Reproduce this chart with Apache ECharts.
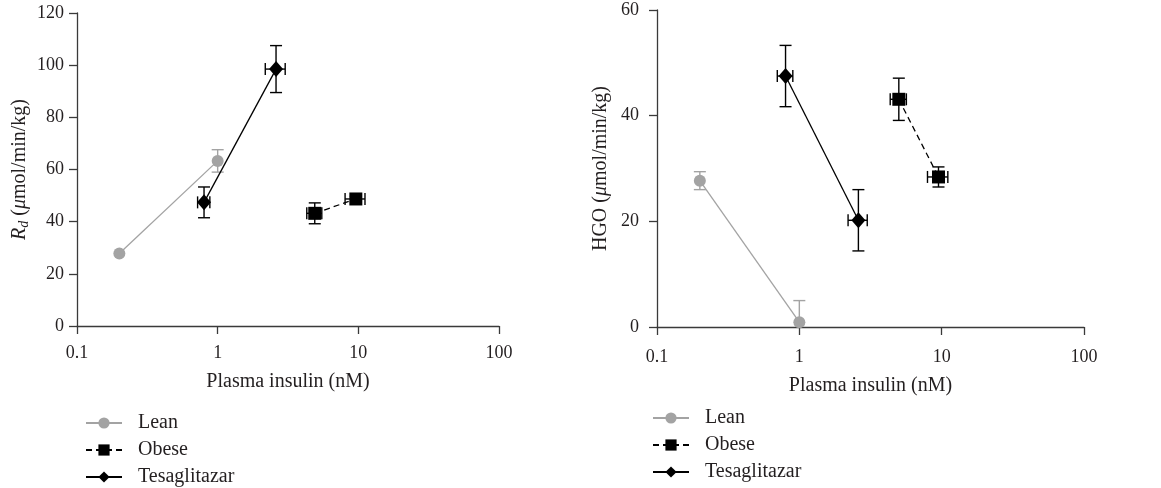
<!DOCTYPE html>
<html>
<head>
<meta charset="utf-8">
<script src="https://cdn.jsdelivr.net/npm/echarts@6/dist/echarts.min.js"></script>
<style>
html,body{margin:0;padding:0;background:#fff;}
#c{width:1161px;height:488px;}
</style>
</head>
<body>
<div id="c"></div>
<script>
// ---------- data ----------
var seriesNames = ['Lean', 'Obese', 'Tesaglitazar'];
var xTickLabels = ['0.1', '1', '10', '100'];

// Panel A: Rd
var leanInsA = [0.2, 1.0];
var leanInsErrA = [0, 0];
var leanRd = [27.8, 63.3];
var leanRdErr = [0, 4.3];

var obeseInsA = [4.9, 9.6];
var obeseInsErrA = [0.6, 1.55];
var obeseRd = [43.2, 48.7];
var obeseRdErr = [4.0, 1.0];

var tesaInsA = [0.8, 2.6];
var tesaInsErrA = [0.08, 0.42];
var tesaRd = [47.4, 98.5];
var tesaRdErr = [5.9, 9.0];

// Panel B: HGO
var leanInsB = [0.2, 1.0];
var leanInsErrB = [0, 0];
var leanHgo = [27.7, 0.9];
var leanHgoErr = [1.7, 4.1];

var obeseInsB = [5.0, 9.5];
var obeseInsErrB = [0.65, 1.55];
var obeseHgo = [43.1, 28.4];
var obeseHgoErr = [4.0, 1.9];

var tesaInsB = [0.8, 2.6];
var tesaInsErrB = [0.1, 0.4];
var tesaHgo = [47.5, 20.2];
var tesaHgoErr = [5.8, 5.8];

// ---------- helpers ----------
var FONT = 'Liberation Serif';
var TXT = '#231f20';
var AX = '#3a3a3a';
var GRAY = '#a3a3a3';

function pts(xs, ys) { return xs.map(function (x, i) { return [x, ys[i]]; }); }
function errPts(xs, xe, ys, ye) { return xs.map(function (x, i) { return [x, ys[i], xe[i], ye[i]]; }); }

function renderErr(color) {
  return function (params, api) {
    var x = api.value(0), y = api.value(1), xe = api.value(2), ye = api.value(3);
    var cs = params.coordSys;
    var bottom = cs.y + cs.height;
    var cap = 6;
    var st = { stroke: color, lineWidth: 1.4 };
    var ch = [];
    if (ye > 0) {
      var a = api.coord([x, y + ye]);
      var b = api.coord([x, y - ye]);
      var by = Math.min(b[1], bottom);
      ch.push({ type: 'line', shape: { x1: a[0], y1: a[1], x2: b[0], y2: by }, style: st });
      ch.push({ type: 'line', shape: { x1: a[0] - cap, y1: a[1], x2: a[0] + cap, y2: a[1] }, style: st });
      if (b[1] <= bottom) ch.push({ type: 'line', shape: { x1: b[0] - cap, y1: b[1], x2: b[0] + cap, y2: b[1] }, style: st });
    }
    if (xe > 0) {
      var l = api.coord([x - xe, y]);
      var r = api.coord([x + xe, y]);
      ch.push({ type: 'line', shape: { x1: l[0], y1: l[1], x2: r[0], y2: r[1] }, style: st });
      ch.push({ type: 'line', shape: { x1: l[0], y1: l[1] - cap, x2: l[0], y2: l[1] + cap }, style: st });
      ch.push({ type: 'line', shape: { x1: r[0], y1: r[1] - cap, x2: r[0], y2: r[1] + cap }, style: st });
    }
    return { type: 'group', children: ch };
  };
}

function xAxis(gi, gap, margin) {
  return {
    type: 'log', logBase: 10, min: 0.1, max: 100, gridIndex: gi,
    name: 'Plasma insulin (nM)', nameLocation: 'middle', nameGap: gap,
    nameTextStyle: { fontFamily: FONT, fontSize: 20, color: TXT },
    axisLine: { lineStyle: { color: AX, width: 1.3 } },
    axisTick: { show: true, length: 8, lineStyle: { color: AX, width: 1.3 } },
    minorTick: { show: false },
    splitLine: { show: false },
    axisLabel: {
      fontFamily: FONT, fontSize: 18, color: TXT, margin: margin,
      formatter: function (v, i) { return xTickLabels[i]; }
    }
  };
}

function yAxis(gi, max, name, gap, margin) {
  return {
    type: 'value', min: 0, max: max, interval: 20, gridIndex: gi,
    name: name, nameLocation: 'middle', nameGap: gap,
    nameTextStyle: { fontFamily: FONT, fontSize: 20, color: TXT, rich: richName },
    axisLine: { show: true, lineStyle: { color: AX, width: 1.3 } },
    axisTick: { show: true, length: 8, lineStyle: { color: AX, width: 1.3 } },
    splitLine: { show: false },
    axisLabel: { fontFamily: FONT, fontSize: 18, color: TXT, margin: margin }
  };
}

var richName = {
  i: { fontFamily: FONT, fontSize: 20, fontStyle: 'italic', color: TXT },
  n: { fontFamily: FONT, fontSize: 20, color: TXT },
  sub: { fontFamily: FONT, fontSize: 14, fontStyle: 'italic', color: TXT, verticalAlign: 'bottom', padding: [9, 0, 0, 0] }
};

function lineSeries(name, gi, data, style) {
  return {
    name: name, type: 'line', xAxisIndex: gi, yAxisIndex: gi, data: data,
    symbol: style.symbol, symbolSize: style.size, z: 3,
    itemStyle: { color: style.color },
    lineStyle: { color: style.color, width: 1.3, type: style.dash || 'solid' },
    emphasis: { disabled: true }, animation: false
  };
}
function errSeries(gi, data, color) {
  return {
    type: 'custom', xAxisIndex: gi, yAxisIndex: gi, data: data, z: 2,
    renderItem: renderErr(color), silent: true, animation: false
  };
}

var stLean = { symbol: 'circle', size: 12, color: GRAY };
var stObese = { symbol: 'rect', size: 13, color: '#000', dash: [6, 4] };
var stTesa = { symbol: 'diamond', size: [14, 16], color: '#000' };

var legendBase = {
  orient: 'vertical', itemWidth: 36, itemHeight: 14, itemGap: 7, padding: 0,
  height: 100,
  data: seriesNames, selectedMode: false,
  textStyle: { fontFamily: FONT, fontSize: 20, color: TXT, padding: [0, 0, 0, 11] }
};

var option = {
  animation: false,
  backgroundColor: '#fff',
  grid: [
    { left: 77, top: 13, width: 422, height: 313 },
    { left: 657, top: 10, width: 427, height: 317 }
  ],
  xAxis: [xAxis(0, 46, 18), xAxis(1, 49, 21)],
  yAxis: [
    yAxis(0, 120, '{i|R}{sub|d}{n| (}{i|μ}{n|mol/min/kg)}', 46, 13),
    yAxis(1, 60, '{n|HGO (}{i|μ}{n|mol/min/kg)}', 46, 18)
  ],
  legend: [
    Object.assign({}, legendBase, { left: 85, top: 413 }),
    Object.assign({}, legendBase, { left: 652, top: 408 })
  ],
  series: [
    errSeries(0, errPts(leanInsA, leanInsErrA, leanRd, leanRdErr), GRAY),
    errSeries(0, errPts(obeseInsA, obeseInsErrA, obeseRd, obeseRdErr), '#000'),
    errSeries(0, errPts(tesaInsA, tesaInsErrA, tesaRd, tesaRdErr), '#000'),
    lineSeries('Lean', 0, pts(leanInsA, leanRd), stLean),
    lineSeries('Obese', 0, pts(obeseInsA, obeseRd), stObese),
    lineSeries('Tesaglitazar', 0, pts(tesaInsA, tesaRd), stTesa),
    errSeries(1, errPts(leanInsB, leanInsErrB, leanHgo, leanHgoErr), GRAY),
    errSeries(1, errPts(obeseInsB, obeseInsErrB, obeseHgo, obeseHgoErr), '#000'),
    errSeries(1, errPts(tesaInsB, tesaInsErrB, tesaHgo, tesaHgoErr), '#000'),
    lineSeries('Lean', 1, pts(leanInsB, leanHgo), stLean),
    lineSeries('Obese', 1, pts(obeseInsB, obeseHgo), stObese),
    lineSeries('Tesaglitazar', 1, pts(tesaInsB, tesaHgo), stTesa)
  ]
};

var chart = echarts.init(document.getElementById('c'), null, { renderer: 'canvas' });
chart.setOption(option);
</script>
</body>
</html>
